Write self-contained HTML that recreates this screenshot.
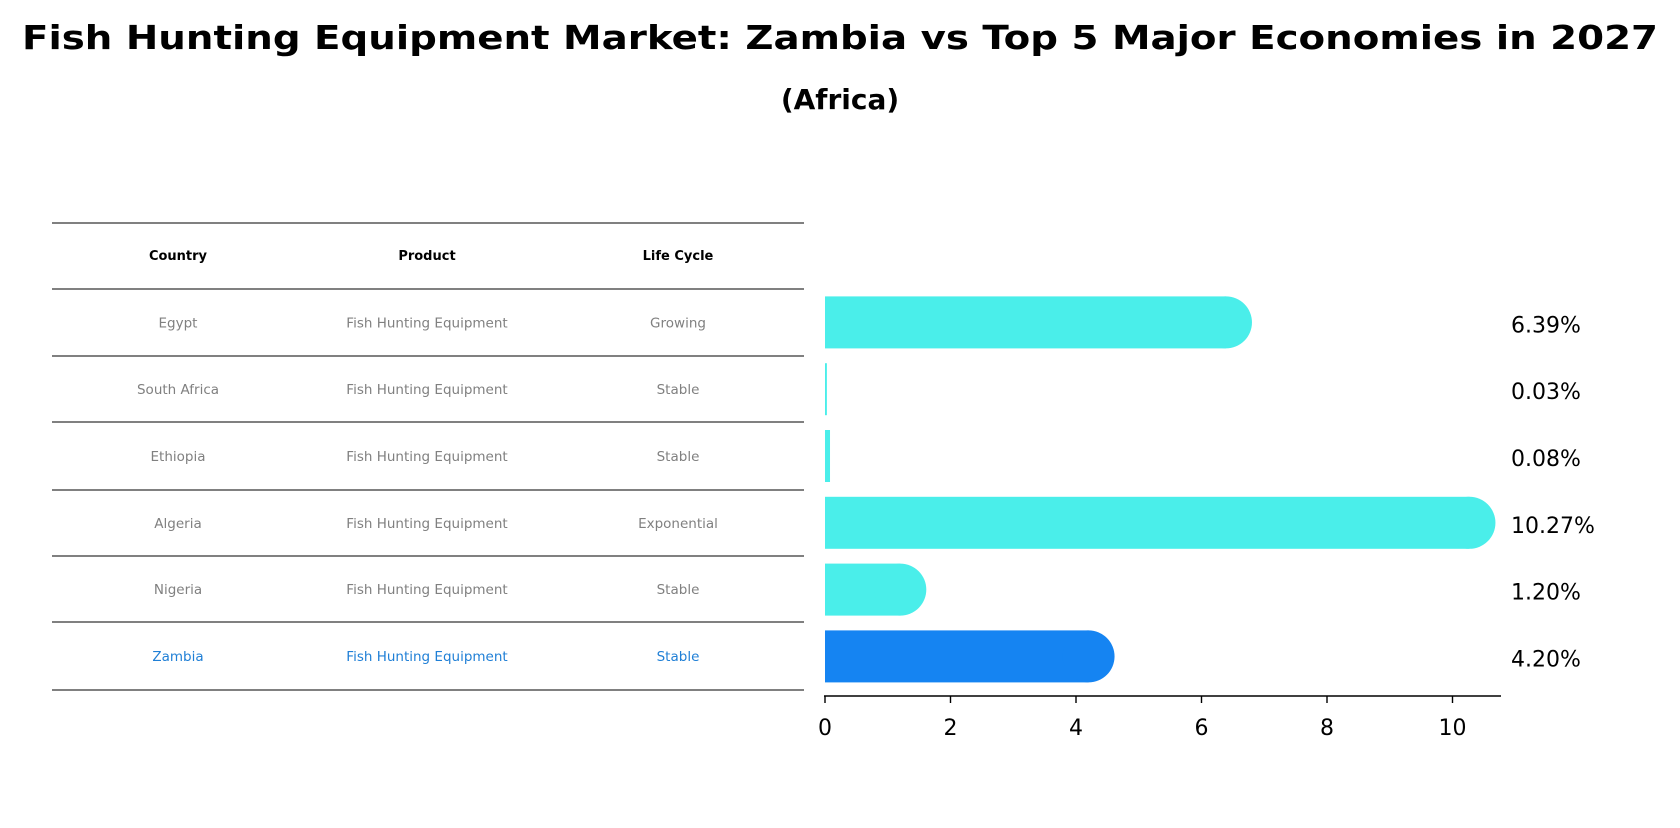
<!DOCTYPE html>
<html><head><meta charset="utf-8"><style>
body{margin:0;background:#fff;}
svg text{font-family:"DejaVu Sans","Liberation Sans",sans-serif;}
</style></head><body>
<svg width="1680" height="823" xmlns="http://www.w3.org/2000/svg">
<text x="840" y="49" text-anchor="middle" font-size="33" font-weight="bold" textLength="1636" lengthAdjust="spacingAndGlyphs">Fish Hunting Equipment Market: Zambia vs Top 5 Major Economies in 2027</text>
<text x="840" y="109" text-anchor="middle" font-size="28" font-weight="bold">(Africa)</text>
<g id="table"></g>
<g id="bars"></g>
</svg>
<script>
const countries=["Egypt","South Africa","Ethiopia","Algeria","Nigeria","Zambia"];
const products=["Fish Hunting Equipment","Fish Hunting Equipment","Fish Hunting Equipment","Fish Hunting Equipment","Fish Hunting Equipment","Fish Hunting Equipment"];
const lifeCycles=["Growing","Stable","Stable","Exponential","Stable","Stable"];
const values=[6.39,0.03,0.08,10.27,1.20,4.20];
const valueLabels=["6.39%","0.03%","0.08%","10.27%","1.20%","4.20%"];
const xTicks=[0,2,4,6,8,10];
const NS="http://www.w3.org/2000/svg";
function mk(t,a,p){const e=document.createElementNS(NS,t);for(const k in a)e.setAttribute(k,a[k]);p.appendChild(e);return e;}
const x=v=>825+v*62.75;
const rowTop=289, rowH=66.8;
const yc=i=>rowTop+rowH*i+rowH/2;
const tb=document.getElementById('table');
const lines=[223,289,356,422,490,556,622,690];
lines.forEach((ly,i)=>{const l=mk('line',{x1:52,x2:804,y1:ly,y2:ly,stroke:'#000','stroke-width':1},tb);

});
const cols=[178,427,678];
["Country","Product","Life Cycle"].forEach((h,j)=>{const t=mk('text',{x:cols[j],y:260,'text-anchor':'middle','font-size':13,'font-weight':'bold'},tb);t.textContent=h;

});
countries.forEach((c,i)=>{
 const col=i===countries.length-1?'#1f7fd6':'#808080';
 [c,products[i],lifeCycles[i]].forEach((s,j)=>{
  const t=mk('text',{x:cols[j],y:(lines[i+1]+lines[i+2])/2+5,'text-anchor':'middle','font-size':13.5,fill:col},tb);t.textContent=s;
  
  });
});
const g=document.getElementById('bars');
const bh=52;
values.forEach((v,i)=>{
 const col=i===values.length-1?'#1584f2':'#4aeeea';
 const r=mk('rect',{x:x(0),y:yc(i)-bh/2,width:Math.max(1,x(v)-x(0)),height:bh,fill:col},g);
 
 
 if(v>0.5){const c=mk('circle',{cx:x(v),cy:yc(i),r:bh/2,fill:col},g);
  
  }
 const t=mk('text',{x:1511,y:yc(i)+10,'font-size':22},g);t.textContent=valueLabels[i];
 
 
});
const ax=mk('line',{x1:824,x2:1501,y1:696,y2:696,stroke:'#000','stroke-width':1.6},g);


xTicks.forEach(v=>{const l=mk('line',{x1:x(v),x2:x(v),y1:696,y2:703,stroke:'#000','stroke-width':1.4},g);
 
 
 const t=mk('text',{x:x(v),y:735,'text-anchor':'middle','font-size':22},g);t.textContent=v;
 
 });
</script>
</body></html>
